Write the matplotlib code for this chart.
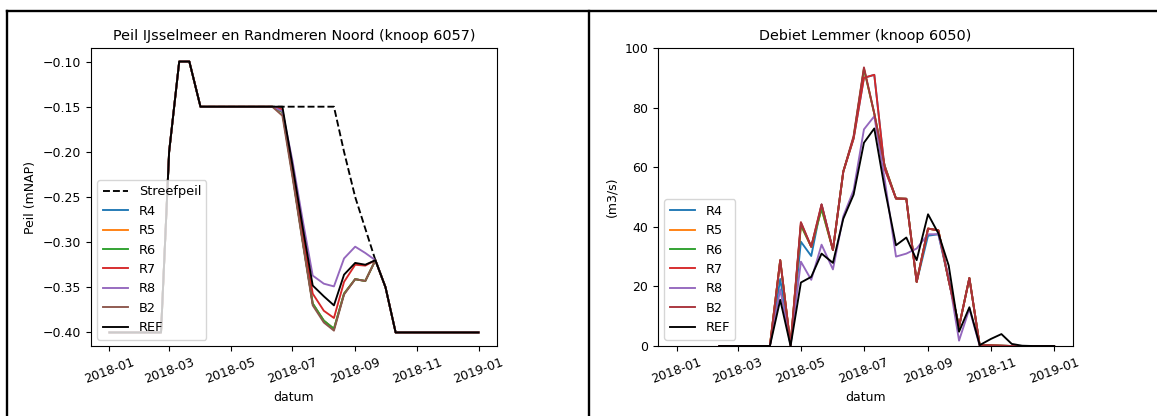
import numpy as np
import pandas as pd
import matplotlib
matplotlib.use('Agg')
import matplotlib.pyplot as plt
import matplotlib.dates as mdates
from matplotlib.lines import Line2D

# decade dates (1st, 11th, 21st of every month) + 2019-01-01
datums = []
for m in range(1, 13):
    for d in (1, 11, 21):
        datums.append(pd.Timestamp(2018, m, d))
datums.append(pd.Timestamp(2019, 1, 1))

# ---- Peil IJsselmeer en Randmeren Noord (knoop 6057) ----
peil_ref = [-0.40, -0.40, -0.40, -0.40, -0.40, -0.40, -0.20, -0.10, -0.10,
            -0.15, -0.15, -0.15, -0.15, -0.15, -0.15, -0.15, -0.15, -0.15,
            -0.215, -0.283, -0.348, -0.360, -0.370, -0.336, -0.323, -0.325, -0.320,
            -0.350, -0.40, -0.40, -0.40, -0.40, -0.40, -0.40, -0.40, -0.40, -0.40]
streefpeil = [-0.40, -0.40, -0.40, -0.40, -0.40, -0.40, -0.20, -0.10, -0.10,
              -0.15, -0.15, -0.15, -0.15, -0.15, -0.15, -0.15, -0.15, -0.15,
              -0.15, -0.15, -0.15, -0.15, -0.15, -0.20, -0.25, -0.285, -0.320,
              -0.350, -0.40, -0.40, -0.40, -0.40, -0.40, -0.40, -0.40, -0.40, -0.40]
peil_r4 = [-0.40, -0.40, -0.40, -0.40, -0.40, -0.40, -0.20, -0.10, -0.10,
           -0.15, -0.15, -0.15, -0.15, -0.15, -0.15, -0.15, -0.15, -0.156,
           -0.225, -0.298, -0.368, -0.387, -0.396, -0.357, -0.341, -0.343, -0.320,
           -0.350, -0.40, -0.40, -0.40, -0.40, -0.40, -0.40, -0.40, -0.40, -0.40]
peil_r5 = list(peil_r4)
peil_r6 = list(peil_r4)
peil_r7 = [-0.40, -0.40, -0.40, -0.40, -0.40, -0.40, -0.20, -0.10, -0.10,
           -0.15, -0.15, -0.15, -0.15, -0.15, -0.15, -0.15, -0.15, -0.153,
           -0.220, -0.290, -0.357, -0.376, -0.384, -0.344, -0.325, -0.326, -0.320,
           -0.350, -0.40, -0.40, -0.40, -0.40, -0.40, -0.40, -0.40, -0.40, -0.40]
peil_r8 = [-0.40, -0.40, -0.40, -0.40, -0.40, -0.40, -0.20, -0.10, -0.10,
           -0.15, -0.15, -0.15, -0.15, -0.15, -0.15, -0.15, -0.15, -0.155,
           -0.210, -0.275, -0.337, -0.346, -0.349, -0.318, -0.305, -0.312, -0.320,
           -0.350, -0.40, -0.40, -0.40, -0.40, -0.40, -0.40, -0.40, -0.40, -0.40]
peil_b2 = [-0.40, -0.40, -0.40, -0.40, -0.40, -0.40, -0.20, -0.10, -0.10,
           -0.15, -0.15, -0.15, -0.15, -0.15, -0.15, -0.15, -0.15, -0.160,
           -0.228, -0.300, -0.370, -0.389, -0.398, -0.358, -0.341, -0.343, -0.320,
           -0.350, -0.40, -0.40, -0.40, -0.40, -0.40, -0.40, -0.40, -0.40, -0.40]

# ---- Debiet Lemmer (knoop 6050) ----
nan = np.nan
q_ref = [nan, nan, nan, nan, 0, 0, 0, 0, 0,
         0, 15.5, 0, 21.3, 23.2, 31.0, 27.9, 42.7, 50.8,
         68.2, 73.0, 53.0, 33.8, 36.4, 28.8, 44.2, 37.8, 27.0,
         4.8, 13.0, 0.3, 2.4, 4.0, 0.7, 0.1, 0, 0, 0]
q_r4 = [nan, nan, nan, nan, 0, 0, 0, 0, 0,
        0, 22.5, 0.3, 35.0, 30.2, 47.5, 32.2, 58.5, 69.6,
        90.0, 91.0, 59.5, 49.5, 49.4, 21.5, 37.0, 37.5, 22.0,
        6.5, 22.8, 0.2, 0.2, 0.1, 0, 0, 0, 0, 0]
q_r5 = [nan, nan, nan, nan, 0, 0, 0, 0, 0,
        0, 28.8, 0.3, 40.5, 33.3, 46.0, 32.2, 58.5, 70.0,
        93.0, 78.0, 60.5, 49.5, 49.4, 21.5, 39.4, 38.8, 22.0,
        6.5, 22.8, 0.2, 0.2, 0.1, 0, 0, 0, 0, 0]
q_r6 = list(q_r5)
q_r7 = [nan, nan, nan, nan, 0, 0, 0, 0, 0,
        0, 28.8, 0.3, 41.5, 33.3, 47.5, 32.2, 58.5, 69.6,
        90.0, 91.0, 59.5, 49.5, 49.4, 21.5, 39.4, 38.8, 22.0,
        6.5, 22.8, 0.2, 0.2, 0.1, 0, 0, 0, 0, 0]
q_r8 = [nan, nan, nan, nan, 0, 0, 0, 0, 0,
        0, 19.0, 0.3, 28.3, 22.2, 34.0, 25.7, 43.5, 52.3,
        72.7, 77.1, 56.0, 30.0, 31.0, 32.7, 37.5, 37.5, 23.0,
        1.8, 12.5, 0, 0, 0, 0, 0, 0, 0, 0]
q_b2 = [nan, nan, nan, nan, 0, 0, 0, 0, 0,
        0, 28.8, 0.3, 41.5, 33.3, 47.5, 32.2, 58.5, 70.5,
        93.5, 78.0, 60.5, 49.5, 49.4, 21.5, 39.4, 38.8, 22.0,
        6.5, 22.8, 0.2, 0.2, 0.1, 0, 0, 0, 0, 0]

plt.rcParams['font.size'] = 9
plt.rcParams['legend.fontsize'] = 9.3
lw = 1.35

fig = plt.figure(figsize=(11.57, 4.16), dpi=100)
ax1 = fig.add_axes([91 / 1157, 1 - 346 / 416, 406 / 1157, 298 / 416])
ax2 = fig.add_axes([658 / 1157, 1 - 346 / 416, 415 / 1157, 298 / 416])

ax1.plot(datums, streefpeil, 'k--', lw=lw, label='Streefpeil')
ax1.plot(datums, peil_r4, color='C0', lw=lw, label='R4')
ax1.plot(datums, peil_r5, color='C1', lw=lw, label='R5')
ax1.plot(datums, peil_r6, color='C2', lw=lw, label='R6')
ax1.plot(datums, peil_r7, color='C3', lw=lw, label='R7')
ax1.plot(datums, peil_r8, color='C4', lw=lw, label='R8')
ax1.plot(datums, peil_b2, color='C5', lw=lw, label='B2')
ax1.plot(datums, peil_ref, color='k', lw=lw, label='REF')
ax1.set_title('Peil IJsselmeer en Randmeren Noord (knoop 6057)', fontsize=10.4)
ax1.set_ylabel('Peil (mNAP)')
ax1.set_xlabel('datum')
ax1.legend(loc='lower left')

ax2.plot(datums, q_r4, color='C0', lw=lw, label='R4')
ax2.plot(datums, q_r5, color='C1', lw=lw, label='R5')
ax2.plot(datums, q_r6, color='C2', lw=lw, label='R6')
ax2.plot(datums, q_r7, color='C3', lw=lw, label='R7')
ax2.plot(datums, q_r8, color='C4', lw=lw, label='R8')
ax2.plot(datums, q_b2, color='#a8323a', lw=lw, label='B2')
ax2.plot(datums, q_ref, color='k', lw=lw, label='REF')
ax2.set_title('Debiet Lemmer (knoop 6050)', fontsize=10.4)
ax2.set_ylabel('(m3/s)')
ax2.set_xlabel('datum')
ax2.set_ylim(0, 100)
ax2.legend(loc='lower left')

pad = pd.Timedelta(days=18.25)
for ax in (ax1, ax2):
    ax.set_xlim(datums[0] - pad, datums[-1] + pad)
    ax.xaxis.set_major_locator(mdates.MonthLocator(bymonth=[1, 3, 5, 7, 9, 11]))
    ax.xaxis.set_major_formatter(mdates.DateFormatter('%Y-%m'))
    for lbl in ax.get_xticklabels():
        lbl.set_rotation(20)

# table-like frame around the two pictures
fig.add_artist(Line2D([7 / 1157, 1], [1 - 11 / 416, 1 - 11 / 416], color='k', lw=1.7))
fig.add_artist(Line2D([7 / 1157, 7 / 1157], [0, 1 - 11 / 416], color='k', lw=1.7))
fig.add_artist(Line2D([589 / 1157, 589 / 1157], [0, 1 - 11 / 416], color='k', lw=1.7))

fig.savefig('out.png', dpi=100)
